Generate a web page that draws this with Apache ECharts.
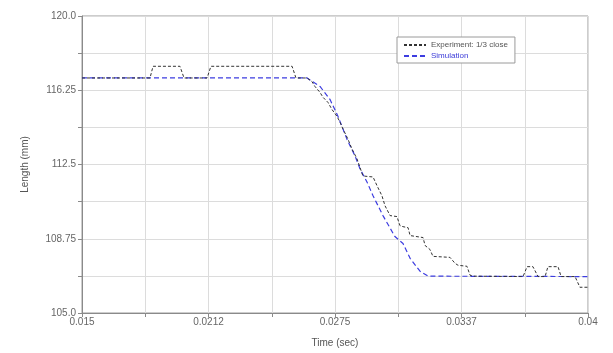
<!DOCTYPE html>
<html>
<head>
<meta charset="utf-8">
<script src="https://cdn.jsdelivr.net/npm/echarts@6/dist/echarts.min.js"></script>
<style>
  html, body { margin: 0; padding: 0; background: #fff; }
  #chart { width: 613px; height: 353px; }
</style>
</head>
<body>
<div id="chart"></div>
<script>
// x axis: 0.015 .. 0.04 s, grid every 0.003125 s, labels every other line
var xMin = 0.015;
var xStep = 0.003125;
var xTickLabels = ['0.015', '0.0212', '0.0275', '0.0337', '0.04'];
// y axis: 105 .. 120 mm, grid every 1.875 mm
var yTickValues = [105, 108.75, 112.5, 116.25, 120];
var yTickLabels = ['105.0', '108.75', '112.5', '116.25', '120.0'];

// Experiment: 1/3 close
var expTime = [0.015, 0.01836, 0.01851, 0.01984, 0.02004, 0.02118, 0.02137, 0.02538, 0.02557, 0.02612,
  0.02636, 0.02651, 0.02676, 0.02691, 0.02715, 0.02735, 0.0276, 0.02775, 0.0279, 0.02814,
  0.02834, 0.02859, 0.02888, 0.02938, 0.02958, 0.02982, 0.02997, 0.03022, 0.03056, 0.03071,
  0.03086, 0.03111, 0.03121, 0.0313, 0.03185, 0.03195, 0.03219, 0.03234, 0.03318, 0.03343,
  0.03358, 0.03402, 0.03417, 0.03432, 0.03679, 0.03699, 0.03728, 0.03753, 0.03788, 0.03802,
  0.03852, 0.03867, 0.03936, 0.0396, 0.04];
var expLength = [116.87, 116.87, 117.46, 117.46, 116.87, 116.87, 117.46, 117.46, 116.87, 116.87,
  116.69, 116.44, 116.14, 115.89, 115.64, 115.28, 114.93, 114.63, 114.28, 113.78,
  113.28, 112.78, 111.92, 111.87, 111.42, 110.92, 110.42, 109.92, 109.87, 109.41,
  109.36, 109.31, 108.91, 108.86, 108.81, 108.41, 108.21, 107.86, 107.81, 107.51,
  107.41, 107.36, 106.91, 106.86, 106.84, 107.34, 107.34, 106.84, 106.84, 107.34,
  107.34, 106.84, 106.84, 106.3, 106.3];

// Simulation
var simTime = [0.015, 0.02612, 0.02676, 0.02725, 0.02765, 0.02809, 0.02849, 0.02874, 0.02908, 0.02938,
  0.02987, 0.03046, 0.03086, 0.03121, 0.0317, 0.0321, 0.04];
var simLength = [116.87, 116.87, 116.44, 115.79, 114.93, 113.78, 112.93, 112.27, 111.62, 110.92,
  109.92, 108.86, 108.51, 107.76, 107.11, 106.86, 106.84];

function toPoints(ts, vs) {
  var out = [];
  for (var i = 0; i < ts.length; i++) {
    out.push([(ts[i] - xMin) / xStep, vs[i]]);
  }
  return out;
}

var chart = echarts.init(document.getElementById('chart'));
var font = 'Liberation Sans, Arial, sans-serif';

var option = {
  animation: false,
  backgroundColor: '#fff',
  textStyle: { fontFamily: font },
  grid: {
    left: 82, right: 25, top: 16, bottom: 38,
    show: true, borderColor: '#9a9a9a', borderWidth: 1
  },
  legend: {
    orient: 'vertical',
    left: 397, top: 37,
    padding: [4, 7, 3, 6],
    itemGap: 3,
    itemWidth: 22, itemHeight: 6,
    borderColor: '#9a9a9a', borderWidth: 1,
    backgroundColor: '#fff',
    itemStyle: { opacity: 0 },
    textStyle: { fontSize: 8, fontFamily: font },
    data: [
      { name: 'Experiment: 1/3 close', textStyle: { color: '#555' } },
      { name: 'Simulation', textStyle: { color: '#3a3ad8' } }
    ]
  },
  xAxis: {
    type: 'value',
    min: 0, max: 8, interval: 1,
    name: 'Time (sec)',
    nameLocation: 'middle',
    nameGap: 25,
    nameTextStyle: { fontSize: 10, color: '#555' },
    axisLine: { show: true, lineStyle: { color: '#8a8a8a' } },
    axisTick: { show: true, length: 4, lineStyle: { color: '#8a8a8a' } },
    axisLabel: {
      fontSize: 10, color: '#666', margin: 4,
      formatter: function (v) {
        return (v % 2 === 0) ? xTickLabels[v / 2] : '';
      }
    },
    splitLine: { show: true, lineStyle: { color: '#dcdcdc' } }
  },
  yAxis: {
    type: 'value',
    min: 105, max: 120, interval: 1.875,
    name: 'Length (mm)',
    nameLocation: 'middle',
    nameGap: 52,
    nameTextStyle: { fontSize: 10, color: '#555' },
    axisLine: { show: true, lineStyle: { color: '#8a8a8a' } },
    axisTick: { show: true, length: 4, lineStyle: { color: '#8a8a8a' } },
    axisLabel: {
      fontSize: 10, color: '#666', margin: 6,
      formatter: function (v) {
        var i = yTickValues.indexOf(v);
        return i >= 0 ? yTickLabels[i] : '';
      }
    },
    splitLine: { show: true, lineStyle: { color: '#dcdcdc' } }
  },
  series: [
    {
      name: 'Experiment: 1/3 close',
      type: 'line',
      symbol: 'none',
      data: toPoints(expTime, expLength),
      lineStyle: { color: '#333', width: 1, type: [3, 2] },
      itemStyle: { color: '#333' },
      z: 3
    },
    {
      name: 'Simulation',
      type: 'line',
      symbol: 'none',
      data: toPoints(simTime, simLength),
      lineStyle: { color: '#3d3de0', width: 1.2, type: [5, 3] },
      itemStyle: { color: '#3d3de0' },
      z: 2
    }
  ]
};

chart.setOption(option);
</script>
</body>
</html>
